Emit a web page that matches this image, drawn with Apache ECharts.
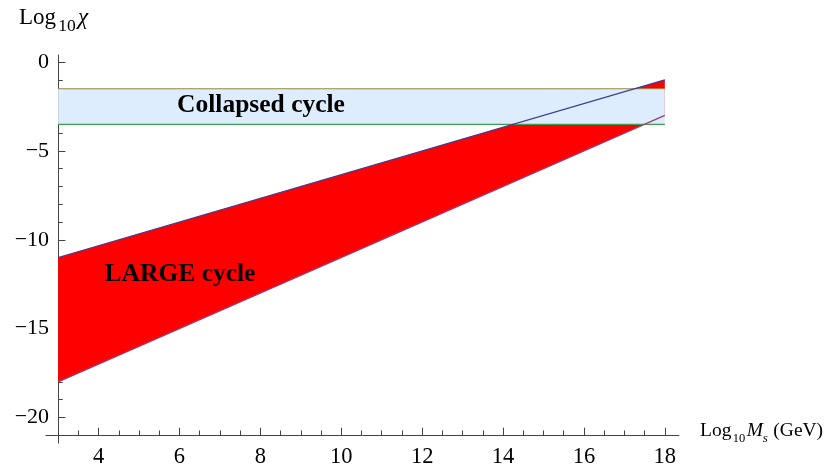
<!DOCTYPE html>
<html>
<head>
<meta charset="utf-8">
<script src="https://cdn.jsdelivr.net/npm/echarts@6/dist/echarts.min.js"></script>
<style>html,body{margin:0;padding:0;background:#fff}#c{width:827px;height:469px}</style>
</head>
<body>
<div id="c"></div>
<script>
// ---- data ----
const xRange = [3, 18];                 // Log10 Ms end points
const upperLog = [-11, -1];             // upper boundary (blue)
const lowerLog = [-18, -3];             // lower boundary (purple)
const bandTop = [-1.5, -1.5];           // collapsed band top (gold)
const bandBottom = [-3.5, -3.5];        // collapsed band bottom (green)
const xMajorTicks = [4, 6, 8, 10, 12, 14, 16, 18];
const xMinorTicks = [3.5, 4, 4.5, 5, 5.5, 6, 6.5, 7, 7.5, 8, 8.5, 9, 9.5, 10, 10.5, 11, 11.5, 12, 12.5, 13, 13.5, 14, 14.5, 15, 15.5, 16, 16.5, 17, 17.5, 18];
const yMajorTicks = [0, -5, -10, -15, -20];
const yMinorTicks = [0, -1, -2, -3, -4, -5, -6, -7, -8, -9, -10, -11, -12, -13, -14, -15, -16, -17, -18, -19, -20];
const regionLabels = ['Collapsed cycle', 'LARGE cycle'];

// ---- layout ----
const SERIF = "'Liberation Serif','Times New Roman',serif";
const AX = '#444';
const xMin = 2.7, xMax = 18.35, yMin = -21.45, yMax = 0.4;
const fmt = v => (v < 0 ? '\u2212' + Math.abs(v) : String(v));

function pts(arr) { return xRange.map((x, i) => [x, arr[i]]); }
function polygon(topArr, botArr, color) {
  return {
    type: 'custom', xAxisIndex: 0, yAxisIndex: 0, silent: true,
    data: [[xRange[0], topArr[0]]],
    encode: { x: 0, y: 1 },
    renderItem: function (params, api) {
      const top = xRange.map((x, i) => api.coord([x, topArr[i]]));
      const bot = xRange.map((x, i) => api.coord([x, botArr[i]])).reverse();
      return { type: 'polygon', shape: { points: top.concat(bot) }, style: { fill: color } };
    }
  };
}
function line(arr, color) {
  return {
    type: 'line', xAxisIndex: 0, yAxisIndex: 0, data: pts(arr), showSymbol: false, silent: true,
    lineStyle: { color: color, width: 1.2 }, animation: false
  };
}
function xAx(ticks, len, main) {
  return {
    type: 'value', gridIndex: 0, position: 'bottom', offset: -8.2, min: xMin, max: xMax,
    axisLine: { show: main, onZero: false, lineStyle: { color: AX, width: 1 } },
    axisTick: { show: true, inside: true, length: len, customValues: ticks, lineStyle: { color: AX, width: 1 } },
    axisLabel: { show: main, customValues: main ? ticks : undefined, formatter: fmt, margin: 11, color: '#000', fontSize: 22.5, fontFamily: SERIF },
    splitLine: { show: false }
  };
}
function yAx(ticks, len, main) {
  return {
    type: 'value', gridIndex: 0, position: 'left', offset: -12.1, min: yMin, max: yMax,
    axisLine: { show: main, onZero: false, lineStyle: { color: AX, width: 1 } },
    axisTick: { show: true, inside: true, length: len, customValues: ticks, lineStyle: { color: AX, width: 1 } },
    axisLabel: { show: main, customValues: main ? ticks : undefined, formatter: fmt, margin: 9, color: '#000', fontSize: 22, fontFamily: SERIF },
    splitLine: { show: false }
  };
}
function txt(s, x, y, size, opts) {
  opts = opts || {};
  return {
    type: 'text', x: x, y: y, silent: true, z: 100,
    style: {
      text: s, fill: '#000', fontSize: size, fontFamily: SERIF,
      fontWeight: opts.bold ? 'bold' : 'normal', fontStyle: opts.italic ? 'italic' : 'normal',
      align: opts.align || 'left', verticalAlign: 'middle',
      textAlign: opts.align || 'left', textVerticalAlign: 'middle'
    }
  };
}

const chart = echarts.init(document.getElementById('c'), null, { renderer: 'canvas' });
chart.setOption({
  animation: false,
  backgroundColor: '#fff',
  grid: { left: 46, top: 55, width: 633, height: 390, containLabel: false },
  xAxis: [xAx(xMajorTicks, 7.3, true), xAx(xMinorTicks, 4.6, false)],
  yAxis: [yAx(yMajorTicks, 7.3, true), yAx(yMinorTicks, 4.6, false)],
  series: [
    polygon(upperLog, lowerLog, '#ff0000'),
    polygon(bandTop, bandBottom, '#ddedfd'),
    line(bandTop, 'rgb(153,138,61)'),
    line(bandBottom, 'rgb(61,160,81)'),
    line(upperLog, 'rgb(61,61,153)'),
    line(lowerLog, 'rgb(153,61,113)')
  ],
  graphic: [
    txt(regionLabels[0], 261, 105, 25.5, { bold: true, align: 'center' }),
    txt(regionLabels[1], 180, 274.6, 25.5, { bold: true, align: 'center' }),
    // y-axis title: Log10 χ
    txt('Log', 19, 18.2, 23),
    txt('10', 58.3, 26.3, 17.5),
    txt('\u03c7', 78, 18.2, 23, { italic: true }),
    // x-axis title: Log10 Ms (GeV)
    txt('Log', 700, 430.7, 19.5),
    txt('10', 732.7, 439, 12.5),
    txt('M', 746.7, 430.7, 19.5, { italic: true }),
    txt('s', 762.7, 438.6, 13, { italic: true }),
    txt('(GeV)', 773.3, 430.7, 19.5)
  ]
});
</script>
</body>
</html>
